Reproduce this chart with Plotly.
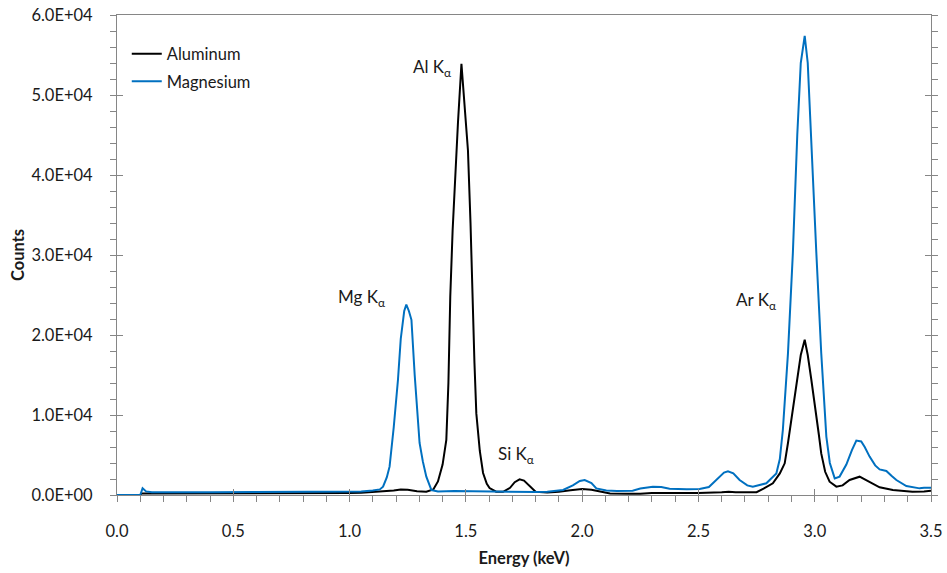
import plotly.graph_objects as go

# Energy-dispersive spectra: energy (keV) and counts for each sample
al_energy = [0.00, 0.10, 0.105, 0.20, 0.30, 0.40, 0.50, 0.60, 0.70, 0.80, 0.90, 1.00,
             1.05, 1.10, 1.15, 1.19, 1.22, 1.25, 1.29, 1.33, 1.36, 1.38, 1.40, 1.416,
             1.425, 1.433, 1.443, 1.452, 1.466, 1.481, 1.495, 1.509, 1.52, 1.528, 1.537,
             1.545, 1.56, 1.574, 1.59, 1.602, 1.63, 1.66, 1.69, 1.71, 1.731, 1.75, 1.78,
             1.80, 1.85, 1.90, 1.95, 2.00, 2.04, 2.08, 2.12, 2.20, 2.25, 2.30, 2.40,
             2.50, 2.60, 2.63, 2.66, 2.70, 2.75, 2.78, 2.82, 2.85, 2.871, 2.885, 2.899,
             2.91, 2.921, 2.94, 2.957, 2.97, 2.985, 3.007, 3.018, 3.028, 3.045, 3.064,
             3.093, 3.12, 3.15, 3.193, 3.236, 3.279, 3.336, 3.42, 3.47, 3.50]
al_counts = [0, 0, 200, 200, 180, 200, 220, 230, 220, 240, 250, 260,
             280, 350, 420, 560, 700, 650, 480, 400, 700, 1700, 3800, 6900,
             14000, 24800, 33000, 39000, 46500, 53900, 49000, 43100, 34000, 24800, 16500,
             10200, 5500, 2750, 1400, 870, 420, 400, 900, 1600, 1960, 1800, 900,
             400, 300, 400, 600, 750, 650, 400, 200, 150, 150, 250, 250,
             250, 350, 420, 330, 300, 350, 800, 1460, 2700, 3960, 6500, 9375,
             11500, 13540, 17500, 19400, 17500, 14500, 10200, 7500, 5200, 2900, 1660,
             1040, 1200, 1875, 2290, 1660, 960, 625, 420, 450, 540]

mg_energy = [0.00, 0.10, 0.11, 0.125, 0.15, 0.20, 0.30, 0.40, 0.50, 0.60, 0.70, 0.80,
             0.90, 1.00, 1.05, 1.10, 1.13, 1.144, 1.16, 1.172, 1.19, 1.208, 1.22, 1.235,
             1.244, 1.255, 1.266, 1.28, 1.294, 1.301, 1.315, 1.33, 1.352, 1.38, 1.45,
             1.50, 1.55, 1.60, 1.70, 1.80, 1.85, 1.918, 1.96, 1.99, 2.011, 2.04, 2.061,
             2.104, 2.15, 2.217, 2.25, 2.304, 2.34, 2.376, 2.45, 2.505, 2.545, 2.577,
             2.61, 2.627, 2.65, 2.677, 2.71, 2.734, 2.792, 2.835, 2.85, 2.863, 2.885,
             2.906, 2.925, 2.94, 2.957, 2.97, 2.985, 3.007, 3.028, 3.05, 3.065, 3.086,
             3.107, 3.136, 3.16, 3.179, 3.20, 3.215, 3.236, 3.26, 3.279, 3.308, 3.33,
             3.351, 3.394, 3.451, 3.47, 3.50]
mg_counts = [0, 0, 850, 450, 350, 320, 330, 340, 360, 360, 380, 400,
             420, 380, 450, 560, 700, 1040, 2200, 3540, 8500, 14375, 19500, 23000,
             23800, 23000, 21900, 15000, 9375, 6500, 4200, 2290, 620, 450, 500,
             480, 450, 400, 400, 380, 400, 625, 1200, 1750, 1875, 1500, 830,
             570, 500, 540, 800, 1040, 1000, 790, 720, 750, 1000, 1875,
             2800, 2950, 2700, 1875, 1200, 1040, 1460, 2700, 4500, 8125, 17700,
             30200, 45000, 54000, 57400, 54000, 44000, 30250, 17750, 7300, 4000, 2080,
             2300, 3800, 5600, 6800, 6700, 6000, 4800, 3700, 3200, 3000, 2400,
             1875, 1125, 830, 900, 900]

# Peak labels: (text, energy, counts)
peak_labels = [
    ("Al K<sub>α</sub>", 1.353, 53400),
    ("Mg K<sub>α</sub>", 1.052, 24600),
    ("Si K<sub>α</sub>", 1.714, 5000),
    ("Ar K<sub>α</sub>", 2.746, 24250),
]

y_tickvals = [0, 10000, 20000, 30000, 40000, 50000, 60000]
y_ticktext = ["0.0E+00", "1.0E+04", "2.0E+04", "3.0E+04", "4.0E+04", "5.0E+04", "6.0E+04"]
x_tickvals = [0.0, 0.5, 1.0, 1.5, 2.0, 2.5, 3.0, 3.5]
x_ticktext = ["0.0", "0.5", "1.0", "1.5", "2.0", "2.5", "3.0", "3.5"]

FONT = "Lato"
FS = 16.5
AXIS_GRAY = "#868686"
TEXT = "#1a1a1a"

fig = go.Figure()
fig.add_trace(go.Scatter(x=al_energy, y=al_counts, mode="lines", name="Aluminum",
                         legendgroup="al", line=dict(color="black", width=2)))
fig.add_trace(go.Scatter(x=mg_energy, y=mg_counts, mode="lines", name="Magnesium",
                         legendgroup="mg", line=dict(color="#0070C0", width=2)))

for text, ex, cy in peak_labels:
    fig.add_annotation(x=ex, y=cy, text=text, showarrow=False,
                       font=dict(family=FONT, size=17, color=TEXT))

fig.update_layout(
    width=947, height=573,
    margin=dict(l=117, r=16, t=15, b=78, autoexpand=False),
    paper_bgcolor="white", plot_bgcolor="white",
    font=dict(family=FONT, size=FS, color=TEXT),
    showlegend=True,
    legend=dict(x=0.012, y=0.955, xanchor="left", yanchor="top",
                bgcolor="rgba(0,0,0,0)", itemwidth=30, tracegroupgap=3,
                font=dict(family=FONT, size=FS, color=TEXT)),
    xaxis=dict(
        range=[0, 3.5], tickvals=x_tickvals, ticktext=x_ticktext,
        automargin=False,
        showgrid=False, zeroline=False,
        showline=True, linecolor=AXIS_GRAY, linewidth=1, mirror=True,
        ticks="outside", ticklen=6, tickcolor=AXIS_GRAY,
        minor=dict(dtick=0.1, ticks="outside", ticklen=6, tickcolor=AXIS_GRAY),
        ticklabelstandoff=15,
        tickfont=dict(family=FONT, size=FS, color=TEXT),
        title=dict(text="<b>Energy (keV)</b>", standoff=12,
                   font=dict(family=FONT, size=FS, color=TEXT)),
    ),
    yaxis=dict(
        range=[0, 60000], tickvals=y_tickvals, ticktext=y_ticktext,
        automargin=False,
        showgrid=False, zeroline=False,
        showline=True, linecolor=AXIS_GRAY, linewidth=1, mirror="allticks",
        ticks="outside", ticklen=6, tickcolor=AXIS_GRAY,
        minor=dict(dtick=2000, ticks="outside", ticklen=6, tickcolor=AXIS_GRAY),
        ticklabelstandoff=14,
        tickfont=dict(family=FONT, size=FS, color=TEXT),
        title=dict(text="<b>Counts</b>", standoff=2,
                   font=dict(family=FONT, size=FS, color=TEXT)),
    ),
    # overlay axes carrying the inward half of the major ticks
    xaxis2=dict(overlaying="x", matches="x", side="bottom", anchor="y",
                automargin=False,
                tickvals=x_tickvals, showticklabels=False, showgrid=False,
                zeroline=False, showline=False,
                ticks="inside", ticklen=6, tickcolor=AXIS_GRAY),
    yaxis2=dict(overlaying="y", matches="y", side="left", anchor="x",
                automargin=False,
                tickvals=y_tickvals, showticklabels=False, showgrid=False,
                zeroline=False, showline=False, mirror="allticks",
                ticks="inside", ticklen=6, tickcolor=AXIS_GRAY),
)

# invisible trace so the overlay axes are drawn
fig.add_trace(go.Scatter(x=[0, 3.5], y=[0, 60000], xaxis="x2", yaxis="y2",
                         mode="lines", line=dict(width=0), showlegend=False,
                         hoverinfo="skip"))

fig.write_html("out.html")
